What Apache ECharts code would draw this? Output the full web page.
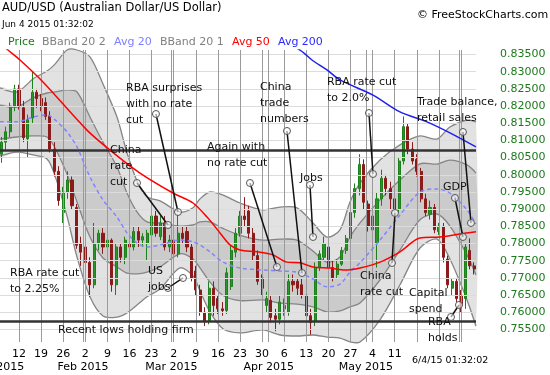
<!DOCTYPE html>
<html><head><meta charset="utf-8">
<script src="https://cdn.jsdelivr.net/npm/echarts@6/dist/echarts.min.js"></script>
<style>html,body{margin:0;padding:0;background:#fff}#c{width:550px;height:375px}</style>
</head><body><div id="c"></div>
<script>
// ---------- daily candles (trading-day index = position, Jan 5 2015 .. Jun 4 2015) ----------
const opens = [
 0.8130,0.8060,0.8095,0.8125,0.8200,  0.8250,0.8195,0.8105,0.8165,0.8240,
 0.8222,0.8210,0.8170,0.8075,0.8010,  0.7890,0.7950,0.7985,0.7905,0.7800,
 0.7790,0.7745,0.7680,0.7800,0.7830,  0.7790,0.7810,0.7680,0.7790,0.7760,
 0.7800,0.7790,0.7835,0.7810,0.7800,  0.7825,0.7880,0.7820,0.7860,0.7790,
 0.7810,0.7770,0.7830,0.7835,0.7790,  0.7720,0.7665,0.7600,0.7575,0.7670,
 0.7640,0.7610,0.7605,0.7675,0.7775,  0.7830,0.7880,0.7895,0.7830,0.7765,
 0.7700,0.7620,0.7635,0.7590,0.7580,  0.7610,0.7600,0.7690,0.7690,0.7680,
 0.7650,0.7590,0.7575,0.7730,0.7760,  0.7790,0.7730,0.7710,0.7740,0.7780,
 0.7815,0.7890,0.7960,0.8030,0.7915,  0.7840,0.7800,0.7930,0.7990,0.7960,
 0.7930,0.7900,0.8040,0.8140,0.8075,  0.8045,0.8010,0.7930,0.7885,0.7905,
 0.7835,0.7850,0.7755,0.7670,0.7690,  0.7650,0.7640,0.7780,0.7735
];
const closes = [
 0.8095,0.8095,0.8125,0.8200,0.8250,  0.8198,0.8108,0.8160,0.8240,0.8222,
 0.8200,0.8170,0.8075,0.8010,0.7925,  0.7950,0.7985,0.7910,0.7795,0.7775,
 0.7745,0.7680,0.7800,0.7830,0.7790,  0.7810,0.7680,0.7790,0.7760,0.7810,
 0.7790,0.7835,0.7810,0.7820,0.7830,  0.7880,0.7830,0.7860,0.7790,0.7810,
 0.7770,0.7830,0.7815,0.7790,0.7700,  0.7665,0.7600,0.7575,0.7670,0.7620,
 0.7610,0.7605,0.7715,0.7780,0.7830,  0.7880,0.7870,0.7830,0.7765,0.7690,
 0.7670,0.7640,0.7585,0.7580,0.7630,  0.7620,0.7690,0.7680,0.7670,0.7650,
 0.7590,0.7570,0.7730,0.7770,0.7800,  0.7730,0.7700,0.7740,0.7780,0.7815,
 0.7890,0.7960,0.8030,0.7920,0.7850,  0.7880,0.7930,0.7990,0.7960,0.7930,
 0.7900,0.8040,0.8140,0.8075,0.8040,  0.8010,0.7930,0.7890,0.7905,0.7840,
 0.7850,0.7760,0.7680,0.7690,0.7640,  0.7620,0.7790,0.7735,0.7726
];
const lows = [
 0.8040,0.8035,0.8070,0.8110,0.8185,  0.8190,0.8095,0.8050,0.8150,0.8195,
 0.8185,0.8160,0.8065,0.7995,0.7910,  0.7860,0.7930,0.7900,0.7785,0.7735,
 0.7720,0.7645,0.7670,0.7780,0.7770,  0.7775,0.7660,0.7650,0.7745,0.7740,
 0.7770,0.7780,0.7790,0.7790,0.7750,  0.7815,0.7820,0.7810,0.7780,0.7775,
 0.7760,0.7760,0.7800,0.7775,0.7690,  0.7650,0.7590,0.7560,0.7565,0.7590,
 0.7595,0.7590,0.7595,0.7665,0.7760,  0.7820,0.7850,0.7815,0.7750,0.7680,
 0.7650,0.7600,0.7570,0.7545,0.7565,  0.7590,0.7590,0.7660,0.7650,0.7640,
 0.7575,0.7535,0.7560,0.7720,0.7750,  0.7720,0.7690,0.7700,0.7735,0.7770,
 0.7805,0.7875,0.7940,0.7900,0.7835,  0.7820,0.7730,0.7910,0.7940,0.7900,
 0.7885,0.7890,0.8030,0.8060,0.8030,  0.7995,0.7920,0.7880,0.7870,0.7830,
 0.7825,0.7745,0.7670,0.7650,0.7630,  0.7600,0.7610,0.7725,0.7710
];
const highs = [
 0.8150,0.8110,0.8140,0.8210,0.8262,  0.8262,0.8215,0.8175,0.8300,0.8250,
 0.8235,0.8225,0.8185,0.8095,0.8025,  0.7965,0.8010,0.7995,0.7915,0.7820,
 0.7800,0.7760,0.7860,0.7840,0.7845,  0.7825,0.7815,0.7800,0.7800,0.7820,
 0.7815,0.7850,0.7850,0.7830,0.7840,  0.7900,0.7895,0.7880,0.7880,0.7825,
 0.7830,0.7885,0.7850,0.7850,0.7800,  0.7735,0.7680,0.7615,0.7690,0.7690,
 0.7650,0.7630,0.7730,0.7795,0.7845,  0.7895,0.7935,0.7910,0.7845,0.7780,
 0.7710,0.7660,0.7650,0.7610,0.7650,  0.7640,0.7710,0.7710,0.7700,0.7700,
 0.7660,0.7610,0.7745,0.7780,0.7820,  0.7800,0.7750,0.7755,0.7790,0.7825,
 0.7900,0.7975,0.8060,0.8045,0.7925,  0.7900,0.7950,0.8015,0.8000,0.7980,
 0.7945,0.8050,0.8170,0.8150,0.8095,  0.8060,0.8020,0.7945,0.7925,0.7915,
 0.7860,0.7860,0.7765,0.7700,0.7700,  0.7665,0.7800,0.7815,0.7745
];
const lastPrice = 0.77257;

// ---------- Bollinger bands (20,2 / 20,1) and Avg 20, read at these day positions ----------
const bandIdx = [0.7,4.55,8.17,11.34,13.15,15.86,18.12,21.06,24.0,27.17,29.43,31.7,33.96,36.9,41.43,44.37,45.95,48.21,51.15,55.0,60.2,64.05,67.9,71.52,74.68,77.62,79.89,82.15,86.67,91.2,95.72,99.57,102.5,106.36,108.4];
const bbUp2 = [.8253,.8241,.8279,.8302,.8322,.8369,.8401,.8343,.8264,.8168,.8064,.7982,.7936,.7924,.7892,.7904,.7930,.7950,.7941,.7918,.7898,.7906,.7904,.7860,.7819,.7840,.7921,.7976,.8043,.8087,.8113,.8104,.8139,.8159,.8154];
const bbUp1 = [.8203,.8197,.8224,.8238,.8241,.8247,.8241,.8168,.8095,.8023,.7947,.7892,.7863,.7860,.7851,.7854,.7863,.7863,.7844,.7824,.7810,.7813,.7810,.7778,.7746,.7761,.7819,.7860,.7927,.7985,.8032,.8031,.8043,.8029,.8005];
const avg20 = [.8154,.8154,.8168,.8174,.8160,.8125,.8081,.7994,.7927,.7877,.7831,.7802,.7790,.7796,.7810,.7805,.7796,.7776,.7746,.7729,.7723,.7720,.7717,.7697,.7674,.7682,.7717,.7744,.7810,.7883,.7950,.7959,.7947,.7898,.7857];
const bbLo1 = [.8104,.8110,.8113,.8110,.8078,.8002,.7921,.7819,.7758,.7732,.7714,.7712,.7717,.7732,.7770,.7755,.7729,.7688,.7649,.7634,.7636,.7627,.7624,.7616,.7601,.7604,.7616,.7627,.7694,.7781,.7869,.7886,.7851,.7767,.7709];
const bbLo2 = [.8055,.8066,.8058,.8046,.7997,.7880,.7761,.7645,.7589,.7586,.7598,.7621,.7645,.7668,.7729,.7706,.7662,.7601,.7552,.7540,.7549,.7534,.7531,.7534,.7528,.7525,.7514,.7511,.7578,.7680,.7787,.7813,.7755,.7636,.7560];

// ---------- moving averages ----------
const avg50Idx = [0.7,2.51,5.23,10.43,20.38,25.59,32.38,39.84,44.37,47.54,50.48,52.74,55.0,58.85,62.47,65.63,68.58,71.52,75.36,78.76,82.15,86.67,91.2,95.72,100.24,104.77,108.4];
const avg50 = [.8383,.8363,.8334,.8270,.8130,.8072,.8005,.7947,.7918,.7877,.7831,.7796,.7781,.7776,.7767,.7746,.7744,.7732,.7729,.7723,.7729,.7746,.7776,.7816,.7819,.7828,.7834];
const avg200Idx = [60,68.58,71.29,74.68,77.62,85.09,91.2,97.31,102.5,108.4];
const avg200 = [.8420,.8363,.8334,.8305,.8276,.8232,.8183,.8154,.8122,.8081];

// ---------- horizontal levels ----------
const levels = [0.8072, 0.7573];

// ---------- axes ----------
const yTicks = [0.755,0.760,0.765,0.770,0.775,0.780,0.785,0.790,0.795,0.800,0.805,0.810,0.815,0.820,0.825,0.830,0.835];
const dayTickIdx = [5,10,15,20,25,30,35,40,45,50,55,60,65,70,75,80,85,90];
const dayTickText = ['12','19','26','2','9','16','23','2','9','16','23','30','6','13','20','27','4','11'];
const weekLineIdx = [5,10,15,20,25,30,35,40,45,50,55,60,65,70,75,80,85,90,95,100,105];
const monthLineIdx = [19.5,39.5,61.5,83.5,104.5];
const monthLabelIdx = [0.7,19.5,39.5,61.5,83.5];
const monthLabelText = ['Jan 2015','Feb 2015','Mar 2015','Apr 2015','May 2015'];

// ---------- annotations ----------
const annoText = ['RBA surprises\nwith no rate\ncut','China\nrate\ncut','RBA rate cut\nto 2.25%','US\njobs','Recent lows holding firm','Again with\nno rate cut','China\ntrade\nnumbers','Jobs','RBA rate cut\nto 2.0%','Trade balance,\nretail sales','GDP','China\nrate cut','Capital\nspend','RBA\nholds'];
const annoIdx = [29.21,25.59,2.96,34.19,13.82,47.54,59.52,68.58,74.68,95.05,100.93,82.15,93.24,97.53];
const annoVal = [0.82767,0.80955,0.77376,0.77443,0.75718,0.81051,0.82796,0.80140,0.82933,0.82351,0.79878,0.77289,0.76795,0.75951];
const ptrIdx1 = [35.99,31.70,38.71,57.26,65.63,70.84,84.18,105.45,103.64,89.39,102.74];
const ptrVal1 = [0.81769,0.79762,0.76707,0.79762,0.81275,0.79704,0.81798,0.81246,0.79326,0.77435,0.75864];
const ptrIdx2 = [40.97,38.71,42.10,63.37,69.03,71.52,85.09,107.26,105.45,90.07,104.55];
const ptrVal2 = [0.78918,0.78540,0.76998,0.77318,0.77144,0.78191,0.80024,0.78598,0.78191,0.78889,0.76213];

const X_MIN = 0.7, X_MAX = 108.4, Y_MIN = 0.75136, Y_MAX = 0.83631;
const FONT = '"DejaVu Sans", Verdana, sans-serif';

const chart = echarts.init(document.getElementById('c'), null, {renderer:'canvas', width:550, height:375});
const emptyLine = (z, ml) => ({type:'line', data:[], z:z, silent:true, markLine:Object.assign({silent:true, symbol:'none', precision:10, animation:false, label:{show:false}, emphasis:{disabled:true}}, ml)});

const option = {
  animation:false,
  backgroundColor:'#fff',
  textStyle:{fontFamily:FONT},
  grid:{left:0, right:74, top:50, bottom:33, containLabel:false, outerBoundsMode:'none'},
  xAxis:[
    {type:'value', min:X_MIN, max:X_MAX, axisLine:{show:false}, axisTick:{show:false}, splitLine:{show:false},
     axisLabel:{customValues:dayTickIdx, formatter:v=>{const k=dayTickIdx.indexOf(v);return k<0?'':dayTickText[k];}, color:'#000', fontSize:11, fontFamily:FONT, margin:7, hideOverlap:false}},
    {type:'value', min:X_MIN, max:X_MAX, position:'bottom', axisLine:{show:false}, axisTick:{show:false}, splitLine:{show:false},
     axisLabel:{customValues:monthLabelIdx, formatter:v=>{const k=monthLabelIdx.indexOf(v);return k<0?'':monthLabelText[k];}, color:'#000', fontSize:11, fontFamily:FONT, margin:20, hideOverlap:false}}
  ],
  yAxis:{type:'value', position:'right', min:Y_MIN, max:Y_MAX, axisLine:{show:false}, axisTick:{show:false}, splitLine:{show:false},
     axisLabel:{customValues:yTicks, formatter:v=>v.toFixed(5), color:'#1c7a1c', fontSize:11, fontFamily:FONT, margin:24}},
  graphic:[
    {type:'text', x:2, y:2, style:{text:'AUD/USD (Australian Dollar/US Dollar)', font:'11.5px '+FONT, fill:'#000'}},
    {type:'text', x:2, y:20, style:{text:'Jun 4 2015 01:32:02', font:'9px '+FONT, fill:'#000'}},
    {type:'text', x:417, y:10, style:{text:'\u00A9 FreeStockCharts.com', font:'11px '+FONT, fill:'#000'}},
    {type:'text', x:8, y:37, style:{text:'Price', font:'11px '+FONT, fill:'#1c7a1c'}},
    {type:'text', x:42, y:37, style:{text:'BBand 20 2', font:'11px '+FONT, fill:'#808080'}},
    {type:'text', x:114, y:37, style:{text:'Avg 20', font:'11px '+FONT, fill:'#7f7fff'}},
    {type:'text', x:160, y:37, style:{text:'BBand 20 1', font:'11px '+FONT, fill:'#808080'}},
    {type:'text', x:232, y:37, style:{text:'Avg 50', font:'11px '+FONT, fill:'#ff0000'}},
    {type:'text', x:278, y:37, style:{text:'Avg 200', font:'11px '+FONT, fill:'#2a2aff'}},
    {type:'text', x:412, y:356, style:{text:'6/4/15 01:32:02', font:'9.5px '+FONT, fill:'#000'}}
  ],
  series:[
    emptyLine(1, {lineStyle:{color:'#dcdcdc', width:1, type:'solid'}, data:yTicks.map(v=>({yAxis:v}))}),
    {type:'custom', z:2, silent:true, data:[[X_MIN, Y_MIN]],
     renderItem:function(params, api){
       const cs = params.coordSys, top = cs.y, bot = cs.y + cs.height;
       const P = arr => bandIdx.map((x,i)=>{const p = api.coord([x, arr[i]]); return [p[0], Math.max(top, Math.min(bot, p[1]))];});
       const u2=P(bbUp2), u1=P(bbUp1), l1=P(bbLo1), l2=P(bbLo2);
       const sm = 0.3;
       const ls = {stroke:'#858585', lineWidth:1.3, fill:'none'};
       return {type:'group', children:[
         {type:'polygon', shape:{points:u2.concat(l2.slice().reverse()), smooth:sm}, style:{fill:'#e2e2e2'}},
         {type:'polygon', shape:{points:u1.concat(l1.slice().reverse()), smooth:sm}, style:{fill:'#cbcbcb'}},
         {type:'polyline', shape:{points:u2, smooth:sm}, style:ls},
         {type:'polyline', shape:{points:l2, smooth:sm}, style:ls},
         {type:'polyline', shape:{points:u1, smooth:sm}, style:ls},
         {type:'polyline', shape:{points:l1, smooth:sm}, style:ls}
       ]};
     }},
    emptyLine(3, {lineStyle:{color:'#9a9a9a', width:1, type:'solid'}, data:weekLineIdx.concat(monthLineIdx).map(v=>({xAxis:v}))}),
    emptyLine(3, {lineStyle:{color:'#333', width:2.5, type:'solid'}, data:levels.map(v=>({yAxis:v}))}),
    {type:'candlestick', z:4, silent:true, barWidth:2.6,
     data:opens.map((o,i)=>[i, o, closes[i], lows[i], highs[i]]),
     encode:{x:0, y:[1,2,3,4]},
     itemStyle:{color:'#2a962a', color0:'#8b1a1a', borderColor:'#1d801d', borderColor0:'#8b1a1a', borderWidth:1}},
    {type:'line', z:5, silent:true, symbol:'none', smooth:0.3, data:bandIdx.map((x,i)=>[x, avg20[i]]),
     lineStyle:{color:'#8484ff', width:1.5, type:[4,3]}},
    {type:'line', z:5, silent:true, symbol:'none', smooth:0.3, data:avg50Idx.map((x,i)=>[x, avg50[i]]),
     lineStyle:{color:'#ff0000', width:1.5}},
    {type:'line', z:5, silent:true, symbol:'none', smooth:0.3, data:avg200Idx.map((x,i)=>[x, avg200[i]]),
     lineStyle:{color:'#1f1fee', width:1.5}},
    {type:'custom', z:6, silent:true, data:ptrIdx1.map((x,i)=>[x, ptrVal1[i], ptrIdx2[i], ptrVal2[i]]), encode:{x:[0,2], y:[1,3]},
     renderItem:function(params, api){
       const a = api.coord([api.value(0), api.value(1)]), b = api.coord([api.value(2), api.value(3)]);
       const cst = {fill:'rgba(255,255,255,0.6)', stroke:'#555', lineWidth:1};
       return {type:'group', children:[
         {type:'line', shape:{x1:a[0], y1:a[1], x2:b[0], y2:b[1]}, style:{stroke:'#111', lineWidth:1.5}},
         {type:'circle', shape:{cx:a[0], cy:a[1], r:3.5}, style:cst},
         {type:'circle', shape:{cx:b[0], cy:b[1], r:3.5}, style:cst}
       ]};
     }},
    {type:'custom', z:7, silent:true, data:annoIdx.map((x,i)=>[x, annoVal[i]]),
     renderItem:function(params, api){
       const p = api.coord([api.value(0), api.value(1)]);
       return {type:'text', x:p[0], y:p[1], style:{text:annoText[params.dataIndex], fill:'#111', font:'11px '+FONT, lineHeight:16,
         textAlign:'left', textVerticalAlign:'top', align:'left', verticalAlign:'top'}};
     }},
    emptyLine(10, {lineStyle:{opacity:0}, data:[{yAxis:lastPrice}],
      label:{show:true, position:'end', distance:22, formatter:()=>lastPrice.toFixed(5), color:'#000', fontSize:11, fontFamily:FONT,
             backgroundColor:'#fff', borderColor:'#444', borderWidth:1, borderRadius:3, padding:[1,2,0,2]}})
  ]
};
chart.setOption(option);
</script>
</body></html>
